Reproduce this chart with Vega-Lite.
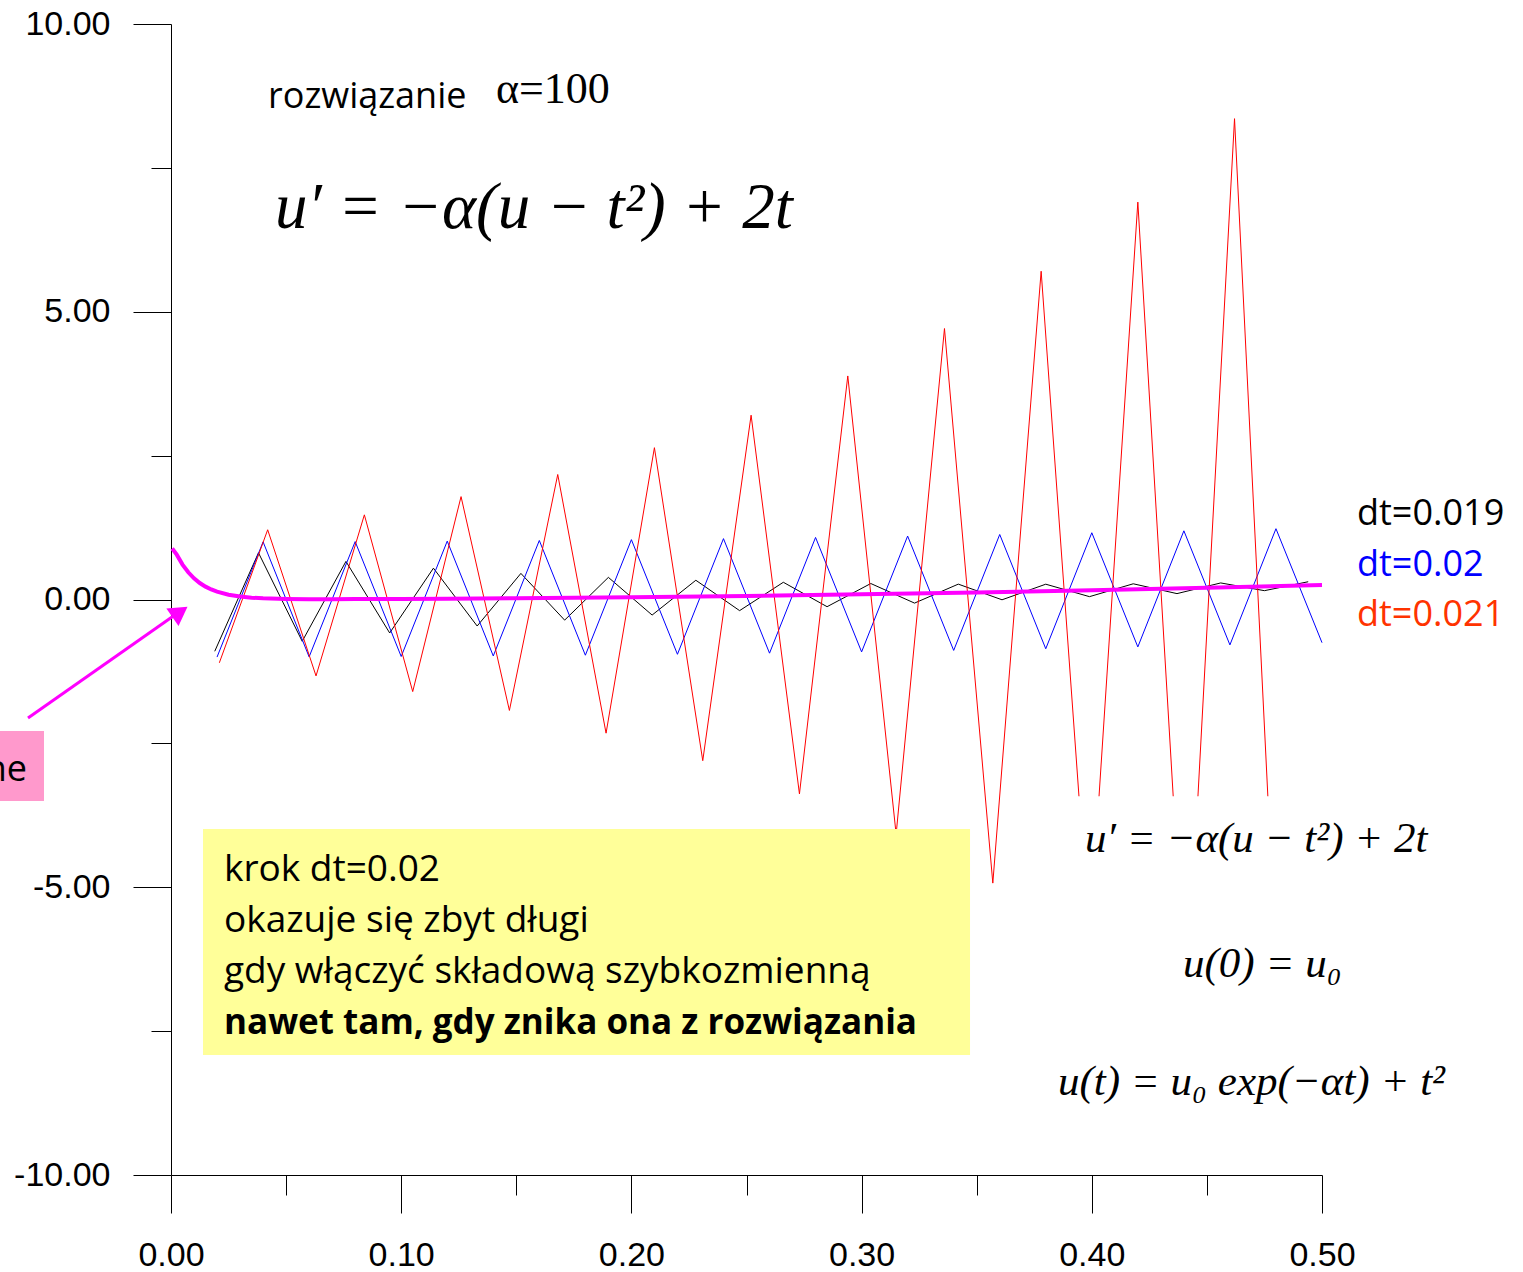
{
  "$schema": "https://vega.github.io/schema/vega-lite/v6.json",
  "width": 1151,
  "height": 1151,
  "autosize": {"type": "none"},
  "padding": {"left": 171, "top": 24, "right": 201, "bottom": 97},
  "background": "white",
  "config": {"view": {"stroke": null}},
  "resolve": {"scale": {"color": "independent"}},
  "datasets": {
    "numeric": [
      {"s": "dt=0.019", "t": 0.019, "u": -0.9},
      {"s": "dt=0.019", "t": 0.038, "u": 0.811408},
      {"s": "dt=0.019", "t": 0.057, "u": -0.72608},
      {"s": "dt=0.019", "t": 0.076, "u": 0.661811},
      {"s": "dt=0.019", "t": 0.095, "u": -0.581768},
      {"s": "dt=0.019", "t": 0.114, "u": 0.544349},
      {"s": "dt=0.019", "t": 0.133, "u": -0.46089},
      {"s": "dt=0.019", "t": 0.152, "u": 0.453464},
      {"s": "dt=0.019", "t": 0.171, "u": -0.358444},
      {"s": "dt=0.019", "t": 0.19, "u": 0.384656},
      {"s": "dt=0.019", "t": 0.209, "u": -0.27038},
      {"s": "dt=0.019", "t": 0.228, "u": 0.334278},
      {"s": "dt=0.019", "t": 0.247, "u": -0.193417},
      {"s": "dt=0.019", "t": 0.266, "u": 0.299378},
      {"s": "dt=0.019", "t": 0.285, "u": -0.124896},
      {"s": "dt=0.019", "t": 0.304, "u": 0.277564},
      {"s": "dt=0.019", "t": 0.323, "u": -0.062665},
      {"s": "dt=0.019", "t": 0.342, "u": 0.266898},
      {"s": "dt=0.019", "t": 0.361, "u": -0.004981},
      {"s": "dt=0.019", "t": 0.38, "u": 0.265811},
      {"s": "dt=0.019", "t": 0.399, "u": 0.04957},
      {"s": "dt=0.019", "t": 0.418, "u": 0.273031},
      {"s": "dt=0.019", "t": 0.437, "u": 0.102132},
      {"s": "dt=0.019", "t": 0.456, "u": 0.287528},
      {"s": "dt=0.019", "t": 0.475, "u": 0.153631},
      {"s": "dt=0.019", "t": 0.494, "u": 0.30847},
      {"s": "dt=0.02", "t": 0.02, "u": -1.0},
      {"s": "dt=0.02", "t": 0.04, "u": 1.0016},
      {"s": "dt=0.02", "t": 0.06, "u": -0.9968},
      {"s": "dt=0.02", "t": 0.08, "u": 1.0064},
      {"s": "dt=0.02", "t": 0.1, "u": -0.9904},
      {"s": "dt=0.02", "t": 0.12, "u": 1.0144},
      {"s": "dt=0.02", "t": 0.14, "u": -0.9808},
      {"s": "dt=0.02", "t": 0.16, "u": 1.0256},
      {"s": "dt=0.02", "t": 0.18, "u": -0.968},
      {"s": "dt=0.02", "t": 0.2, "u": 1.04},
      {"s": "dt=0.02", "t": 0.22, "u": -0.952},
      {"s": "dt=0.02", "t": 0.24, "u": 1.0576},
      {"s": "dt=0.02", "t": 0.26, "u": -0.9328},
      {"s": "dt=0.02", "t": 0.28, "u": 1.0784},
      {"s": "dt=0.02", "t": 0.3, "u": -0.9104},
      {"s": "dt=0.02", "t": 0.32, "u": 1.1024},
      {"s": "dt=0.02", "t": 0.34, "u": -0.8848},
      {"s": "dt=0.02", "t": 0.36, "u": 1.1296},
      {"s": "dt=0.02", "t": 0.38, "u": -0.856},
      {"s": "dt=0.02", "t": 0.4, "u": 1.16},
      {"s": "dt=0.02", "t": 0.42, "u": -0.824},
      {"s": "dt=0.02", "t": 0.44, "u": 1.1936},
      {"s": "dt=0.02", "t": 0.46, "u": -0.7888},
      {"s": "dt=0.02", "t": 0.48, "u": 1.2304},
      {"s": "dt=0.02", "t": 0.5, "u": -0.7504},
      {"s": "dt=0.021", "t": 0.021, "u": -1.1},
      {"s": "dt=0.021", "t": 0.042, "u": 1.211808},
      {"s": "dt=0.021", "t": 0.063, "u": -1.32752},
      {"s": "dt=0.021", "t": 0.084, "u": 1.471253},
      {"s": "dt=0.021", "t": 0.105, "u": -1.600033},
      {"s": "dt=0.021", "t": 0.126, "u": 1.787599},
      {"s": "dt=0.021", "t": 0.147, "u": -1.927727},
      {"s": "dt=0.021", "t": 0.168, "u": 2.172053},
      {"s": "dt=0.021", "t": 0.189, "u": -2.322932},
      {"s": "dt=0.021", "t": 0.21, "u": 2.638177},
      {"s": "dt=0.021", "t": 0.231, "u": -2.800565},
      {"s": "dt=0.021", "t": 0.252, "u": 3.202382},
      {"s": "dt=0.021", "t": 0.273, "u": -3.378678},
      {"s": "dt=0.021", "t": 0.294, "u": 3.884523},
      {"s": "dt=0.021", "t": 0.315, "u": -4.079112},
      {"s": "dt=0.021", "t": 0.336, "u": 4.708626},
      {"s": "dt=0.021", "t": 0.357, "u": -4.928295},
      {"s": "dt=0.021", "t": 0.378, "u": 5.703761},
      {"s": "dt=0.021", "t": 0.399, "u": -5.958205},
      {"s": "dt=0.021", "t": 0.42, "u": 6.905106},
      {"s": "dt=0.021", "t": 0.441, "u": -7.207537},
      {"s": "dt=0.021", "t": 0.462, "u": 8.355223},
      {"s": "dt=0.021", "t": 0.483, "u": -8.723109}
    ],
    "exact": [
      {"t": 0.0005, "u": 0.8869},
      {"t": 0.0025, "u": 0.7788},
      {"t": 0.005, "u": 0.60656},
      {"t": 0.0075, "u": 0.47242},
      {"t": 0.01, "u": 0.36798},
      {"t": 0.0125, "u": 0.28666},
      {"t": 0.015, "u": 0.22336},
      {"t": 0.0175, "u": 0.17408},
      {"t": 0.02, "u": 0.13574},
      {"t": 0.025, "u": 0.08271},
      {"t": 0.03, "u": 0.050687},
      {"t": 0.035, "u": 0.031422},
      {"t": 0.04, "u": 0.019916},
      {"t": 0.05, "u": 0.009238},
      {"t": 0.06, "u": 0.006079},
      {"t": 0.07, "u": 0.005812},
      {"t": 0.08, "u": 0.006735},
      {"t": 0.1, "u": 0.010045},
      {"t": 0.12, "u": 0.0144},
      {"t": 0.15, "u": 0.0225},
      {"t": 0.2, "u": 0.04},
      {"t": 0.25, "u": 0.0625},
      {"t": 0.3, "u": 0.09},
      {"t": 0.35, "u": 0.1225},
      {"t": 0.4, "u": 0.16},
      {"t": 0.45, "u": 0.2025},
      {"t": 0.5, "u": 0.25}
    ]
  },
  "encoding": {
    "x": {
      "field": "t", "type": "quantitative",
      "scale": {"domain": [0, 0.5], "nice": false, "zero": false},
      "axis": {
        "values": [0, 0.05, 0.1, 0.15, 0.2, 0.25, 0.3, 0.35, 0.4, 0.45, 0.5],
        "format": ".2f",
        "labelExpr": "round(datum.value*100) % 10 == 0 ? datum.label : ''",
        "tickSize": {"condition": {"test": "round(datum.value*100) % 10 == 0", "value": 38}, "value": 20},
        "labelFont": "Liberation Sans", "labelFontSize": 34, "labelColor": "black",
        "labelPadding": 25, "labelFlush": false, "labelOverlap": false,
        "domainColor": "black", "tickColor": "black", "grid": false, "title": null
      }
    },
    "y": {
      "field": "u", "type": "quantitative",
      "scale": {"domain": [-10, 10], "nice": false, "zero": false},
      "axis": {
        "values": [-10, -7.5, -5, -2.5, 0, 2.5, 5, 7.5, 10],
        "format": ".2f",
        "labelExpr": "round(datum.value*10) % 50 == 0 ? replace(datum.label, '−', '-') : ''",
        "tickSize": {"condition": {"test": "round(datum.value*10) % 50 == 0", "value": 38}, "value": 20},
        "labelFont": "Liberation Sans", "labelFontSize": 34, "labelColor": "black",
        "labelPadding": 23, "labelFlush": false, "labelOverlap": false,
        "domainColor": "black", "tickColor": "black", "grid": false, "title": null
      }
    }
  },
  "layer": [
    {
      "data": {"name": "numeric"},
      "mark": {"type": "line", "strokeWidth": 1},
      "encoding": {
        "color": {"field": "s", "type": "nominal", "legend": null,
          "scale": {"domain": ["dt=0.019", "dt=0.02", "dt=0.021"], "range": ["#000000", "#0000FF", "#FF0000"]}},
        "order": {"field": "t", "type": "quantitative"}
      }
    },
    {
      "data": {"name": "exact"},
      "mark": {"type": "line", "strokeWidth": 4, "color": "#FF00FF"},
      "encoding": {"order": {"field": "t", "type": "quantitative"}}
    },
    {
      "data": {"values": [{"t": 0.372, "t2": 0.5, "u": -3.42, "u2": -9.6}]},
      "mark": {"type": "rect", "color": "white"},
      "encoding": {"x2": {"field": "t2"}, "y2": {"field": "u2"}}
    },
    {
      "data": {"values": [{"t": 0.0139, "t2": 0.3471, "u": -3.988, "u2": -7.915}]},
      "mark": {"type": "rect", "color": "#FFFF99"},
      "encoding": {"x2": {"field": "t2"}, "y2": {"field": "u2"}}
    },
    {
      "data": {"values": [{"t": -0.0743, "t2": -0.05517, "u": -2.285, "u2": -3.501}]},
      "mark": {"type": "rect", "color": "#FF99CC"},
      "encoding": {"x2": {"field": "t2"}, "y2": {"field": "u2"}}
    },
    {
      "data": {"values": [{"t": -0.06212, "u": -2.059}, {"t": 0.0009, "u": -0.29}]},
      "mark": {"type": "line", "strokeWidth": 3, "color": "#FF00FF"},
      "encoding": {}
    },
    {
      "data": {"values": [{"t": 0.0039, "u": -0.217}]},
      "mark": {"type": "point", "shape": "triangle-up", "filled": true, "color": "#FF00FF", "opacity": 1, "size": 450, "angle": 55},
      "encoding": {}
    },
    {
      "data": {"values": [{"text": "ne", "t": -0.06255, "u": -3.154}]},
      "mark": {"type": "text", "align": "right", "baseline": "alphabetic", "font": "Open Sans", "fontSize": 36, "color": "black"},
      "encoding": {"text": {"field": "text"}}
    },
    {
      "data": {"values": [
        {"s": "dt=0.019", "t": 0.5152, "u": 1.294},
        {"s": "dt=0.02", "t": 0.5152, "u": 0.408},
        {"s": "dt=0.021", "t": 0.5152, "u": -0.46}
      ]},
      "mark": {"type": "text", "align": "left", "baseline": "alphabetic", "font": "Open Sans", "fontSize": 36},
      "encoding": {
        "text": {"field": "s"},
        "color": {"field": "s", "type": "nominal", "legend": null,
          "scale": {"domain": ["dt=0.019", "dt=0.02", "dt=0.021"], "range": ["#000000", "#0000FF", "#FF3300"]}}
      }
    },
    {
      "data": {"values": [{"text": "rozwiązanie", "t": 0.04214, "u": 8.54}]},
      "mark": {"type": "text", "align": "left", "baseline": "alphabetic", "font": "Open Sans", "fontSize": 36, "color": "black"},
      "encoding": {"text": {"field": "text"}}
    },
    {
      "data": {"values": [{"text": "α=100", "t": 0.14118, "u": 8.62}]},
      "mark": {"type": "text", "align": "left", "baseline": "alphabetic", "font": "Liberation Serif", "fontSize": 44, "color": "black"},
      "encoding": {"text": {"field": "text"}}
    },
    {
      "data": {"values": [{"text": "u′ = −α(u − t²) + 2t", "t": 0.04518, "u": 6.455}]},
      "mark": {"type": "text", "align": "left", "baseline": "alphabetic", "font": "Liberation Serif", "fontStyle": "italic", "fontSize": 65, "color": "black"},
      "encoding": {"text": {"field": "text"}}
    },
    {
      "data": {"values": [
        {"text": "u′ = −α(u − t²) + 2t", "t": 0.39705, "u": -4.387},
        {"text": "u(0) = u₀", "t": 0.43962, "u": -6.559},
        {"text": "u(t) = u₀ exp(−αt) + t²", "t": 0.38532, "u": -8.61}
      ]},
      "mark": {"type": "text", "align": "left", "baseline": "alphabetic", "font": "Liberation Serif", "fontStyle": "italic", "fontSize": 43, "color": "black"},
      "encoding": {"text": {"field": "text"}}
    },
    {
      "data": {"values": [
        {"text": "krok dt=0.02", "t": 0.02302, "u": -4.891},
        {"text": "okazuje się zbyt długi", "t": 0.02302, "u": -5.777},
        {"text": "gdy włączyć składową szybkozmienną", "t": 0.02302, "u": -6.664}
      ]},
      "mark": {"type": "text", "align": "left", "baseline": "alphabetic", "font": "Open Sans", "fontSize": 37, "color": "black"},
      "encoding": {"text": {"field": "text"}}
    },
    {
      "data": {"values": [{"text": "nawet tam, gdy znika ona z rozwiązania", "t": 0.02302, "u": -7.55}]},
      "mark": {"type": "text", "align": "left", "baseline": "alphabetic", "font": "Open Sans", "fontWeight": "bold", "fontSize": 35, "color": "black"},
      "encoding": {"text": {"field": "text"}}
    }
  ]
}
